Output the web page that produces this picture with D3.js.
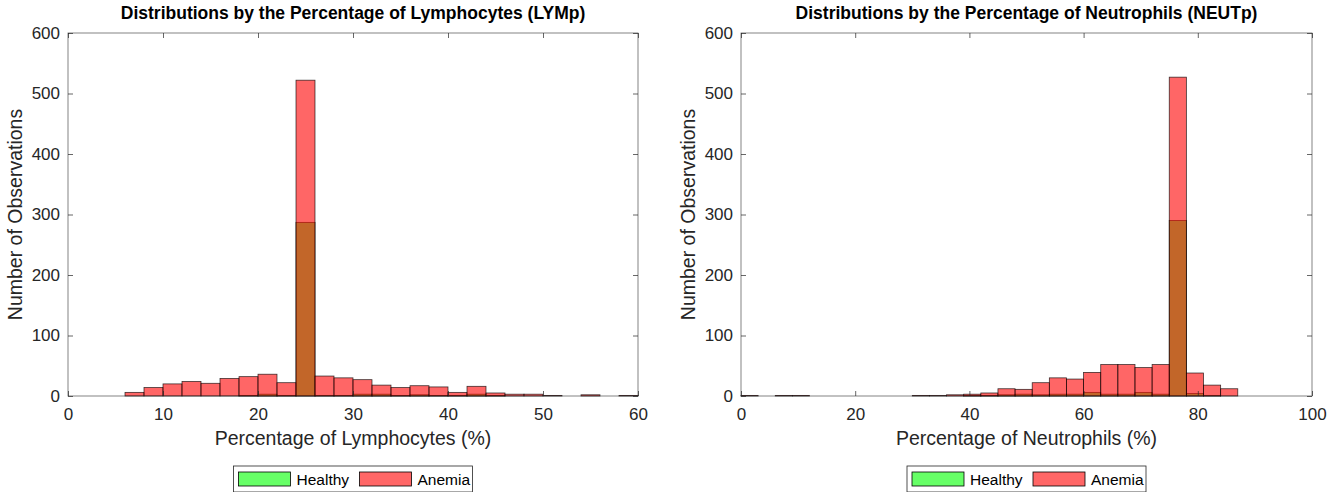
<!DOCTYPE html>
<html>
<head>
<meta charset="utf-8">
<script src="https://cdn.jsdelivr.net/npm/d3@7"></script>
<style>
  body { margin: 0; background: #fff; }
  svg { font-family: "Liberation Sans", Arial, sans-serif; }
</style>
</head>
<body>
<svg id="chart" width="1342" height="492"></svg>
<script>
// LYMp histogram: bins of width 2 from 0 to 60
const lymBinStart = 0, lymBinWidth = 2;
const lymHealthy = [0,0,0,0,0,0,0,0,0,1, 3,1,287,1,1, 3,3,1,2,1, 1,3,1,0,0, 0,0,0,0,0];
const lymAnemia  = [0,0,0,6,14,20,24,21,29,32, 36,22,522,33,30, 27,18,14,17,15, 6,16,5,3,3, 1,0,2,0,1];
const lymTicksX = [0, 10, 20, 30, 40, 50, 60];

// NEUTp histogram: bins of width 3 from 0 to 99
const neutBinStart = 0, neutBinWidth = 3;
const neutHealthy = [0,0,0,0,0,0,0,0,0,0, 0,0,0,1,1, 2,3,2,3,3, 6,3,3,6,3, 290,4,1,0,0, 0,0,0];
const neutAnemia  = [1,0,1,1,0,0,0,0,0,0, 1,1,2,3,5, 12,11,22,30,28, 39,52,52,47,52, 527,38,18,12,0, 0,0,0];
const neutTicksX = [0, 20, 40, 60, 80, 100];

const yTicks = [0, 100, 200, 300, 400, 500, 600];
const groups = ["Healthy", "Anemia"];
const groupColor = {Healthy: "#00ff00", Anemia: "#ff0000"};

const svg = d3.select("#chart");

function drawPanel(opt) {
  const x = d3.scaleLinear().domain(opt.xDomain).range([opt.left, opt.right]);
  const y = d3.scaleLinear().domain([0, 600]).range([396, 33]);
  const g = svg.append("g");

  // bars: Healthy first, Anemia on top, both translucent
  [["Healthy", opt.healthy], ["Anemia", opt.anemia]].forEach(([name, counts]) => {
    const bins = counts.map((c, i) => ({
      x0: opt.binStart + i * opt.binWidth,
      x1: opt.binStart + (i + 1) * opt.binWidth,
      n: c
    })).filter(d => d.n > 0);
    g.append("g").selectAll("rect")
      .data(bins)
      .enter().append("rect")
      .attr("x", d => x(d.x0))
      .attr("width", d => x(d.x1) - x(d.x0))
      .attr("y", d => y(d.n))
      .attr("height", d => y(0) - y(d.n))
      .attr("fill", groupColor[name])
      .attr("fill-opacity", 0.6)
      .attr("stroke", "#000")
      .attr("stroke-opacity", 0.75)
      .attr("stroke-width", 0.8);
  });

  const axisColor = "#262626";
  // box
  g.append("rect")
    .attr("x", opt.left).attr("y", 33)
    .attr("width", opt.right - opt.left).attr("height", 396 - 33)
    .attr("fill", "none").attr("stroke", axisColor).attr("stroke-width", 0.8)
    .attr("stroke-opacity", 0.7);

  // axes with inward ticks
  const tickLen = 5;
  const xb = g.append("g").attr("transform", "translate(0,396)")
    .call(d3.axisBottom(x).tickValues(opt.xTicks).tickSize(-tickLen).tickPadding(12));
  const xt = g.append("g").attr("transform", "translate(0,33)")
    .call(d3.axisTop(x).tickValues(opt.xTicks).tickSize(-tickLen).tickFormat(""));
  const yl = g.append("g").attr("transform", `translate(${opt.left},0)`)
    .call(d3.axisLeft(y).tickValues(yTicks).tickSize(-tickLen).tickPadding(8));
  const yr = g.append("g").attr("transform", `translate(${opt.right},0)`)
    .call(d3.axisRight(y).tickValues(yTicks).tickSize(-tickLen).tickFormat(""));
  [xb, xt, yl, yr].forEach(a => {
    a.select(".domain").remove();
    a.selectAll("line").attr("stroke", axisColor).attr("stroke-opacity", 0.7);
    a.selectAll("text").attr("fill", axisColor)
      .style("font-size", "17px").style("font-family", "Liberation Sans, Arial, sans-serif");
  });
  xb.selectAll("text").attr("dy", "0.71em");

  const cx = (opt.left + opt.right) / 2;
  g.append("text")
    .attr("x", cx).attr("y", 19)
    .attr("text-anchor", "middle")
    .style("font-size", "17.5px").style("font-weight", "bold")
    .attr("fill", "#000")
    .text(opt.title);

  g.append("text")
    .attr("x", cx).attr("y", 445)
    .attr("text-anchor", "middle")
    .style("font-size", "19.5px")
    .attr("fill", axisColor)
    .text(opt.xLabel);

  g.append("text")
    .attr("transform", `translate(${opt.left - 46},${(33 + 396) / 2}) rotate(-90)`)
    .attr("text-anchor", "middle")
    .style("font-size", "19.5px")
    .attr("fill", axisColor)
    .text("Number of Observations");

  // legend
  const lw = 239, lh = 26;
  const leg = g.append("g").attr("transform", `translate(${cx - lw / 2},466)`);
  leg.append("rect")
    .attr("width", lw).attr("height", lh)
    .attr("fill", "#fff").attr("stroke", axisColor).attr("stroke-width", 0.8);
  const items = [{name: groups[0], sx: 5, tx: 63}, {name: groups[1], sx: 126, tx: 184}];
  items.forEach(it => {
    leg.append("rect")
      .attr("x", it.sx).attr("y", 6)
      .attr("width", 52).attr("height", 14)
      .attr("fill", groupColor[it.name]).attr("fill-opacity", 0.6)
      .attr("stroke", "#000").attr("stroke-width", 0.8);
    leg.append("text")
      .attr("x", it.tx).attr("y", 19)
      .style("font-size", "15.5px")
      .attr("fill", "#000")
      .text(it.name);
  });
}

drawPanel({
  left: 68, right: 638, xDomain: [0, 60],
  binStart: lymBinStart, binWidth: lymBinWidth,
  healthy: lymHealthy, anemia: lymAnemia, xTicks: lymTicksX,
  title: "Distributions by the Percentage of Lymphocytes (LYMp)",
  xLabel: "Percentage of Lymphocytes (%)"
});

drawPanel({
  left: 741, right: 1312, xDomain: [0, 100],
  binStart: neutBinStart, binWidth: neutBinWidth,
  healthy: neutHealthy, anemia: neutAnemia, xTicks: neutTicksX,
  title: "Distributions by the Percentage of Neutrophils (NEUTp)",
  xLabel: "Percentage of Neutrophils (%)"
});
</script>
</body>
</html>
